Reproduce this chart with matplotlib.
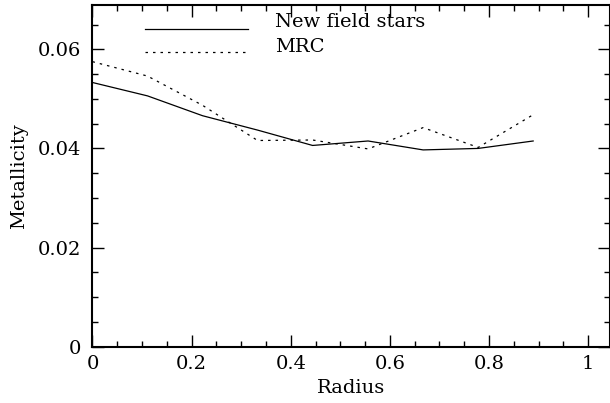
import numpy as np
import matplotlib
matplotlib.use('Agg')
import matplotlib.pyplot as plt
from matplotlib.ticker import MultipleLocator

# radial metallicity profiles
radius = [0.0, 0.111, 0.222, 0.333, 0.444, 0.556, 0.667, 0.778, 0.889]
z_field = [0.0533, 0.0506, 0.0466, 0.0437, 0.0406, 0.0415, 0.0397, 0.0400, 0.0415]
z_mrc = [0.0575, 0.0546, 0.0487, 0.0416, 0.0417, 0.0399, 0.0442, 0.0402, 0.0468]

plt.rcParams['font.family'] = 'DejaVu Serif'

fig = plt.figure(figsize=(6.10, 4.03), dpi=100)
ax = fig.add_axes([0.1516, 0.1397, 0.8484, 0.8487])

ax.plot(radius, z_field, color='black', linewidth=0.9)
ax.plot(radius, z_mrc, color='black', linewidth=0.9, linestyle=(0, (2, 4)))

ax.set_xlim(0, 1.044)
ax.set_ylim(0, 0.069)

ax.xaxis.set_minor_locator(MultipleLocator(0.05))
ax.yaxis.set_minor_locator(MultipleLocator(0.005))
ax.set_xticks([0, 0.2, 0.4, 0.6, 0.8, 1.0])
ax.set_xticklabels(['0', '0.2', '0.4', '0.6', '0.8', '1'])
ax.set_yticks([0, 0.02, 0.04, 0.06])
ax.set_yticklabels(['0', '0.02', '0.04', '0.06'])

ax.tick_params(which='both', direction='in', top=True, right=True, width=1.0)
ax.tick_params(which='major', length=8.5, labelsize=14)
ax.tick_params(axis='x', which='major', pad=6)
ax.tick_params(axis='y', which='major', pad=8)
ax.tick_params(which='minor', length=4.5)
for s in ax.spines.values():
    s.set_linewidth(1.5)

ax.set_xlabel('Radius', fontsize=14, labelpad=4)
ax.set_ylabel('Metallicity', fontsize=14, labelpad=7)

# key drawn inside the axes
ax.plot([0.102, 0.301], [0.929, 0.929], color='black', linewidth=0.9,
        transform=ax.transAxes)
ax.plot([0.102, 0.301], [0.861, 0.861], color='black', linewidth=0.9,
        linestyle=(0, (2, 4)), transform=ax.transAxes)
ax.text(0.353, 0.949, 'New field stars', fontsize=14, transform=ax.transAxes,
        va='center', ha='left')
ax.text(0.353, 0.875, 'MRC', fontsize=14, transform=ax.transAxes,
        va='center', ha='left')

fig.savefig('out.png', dpi=100)
